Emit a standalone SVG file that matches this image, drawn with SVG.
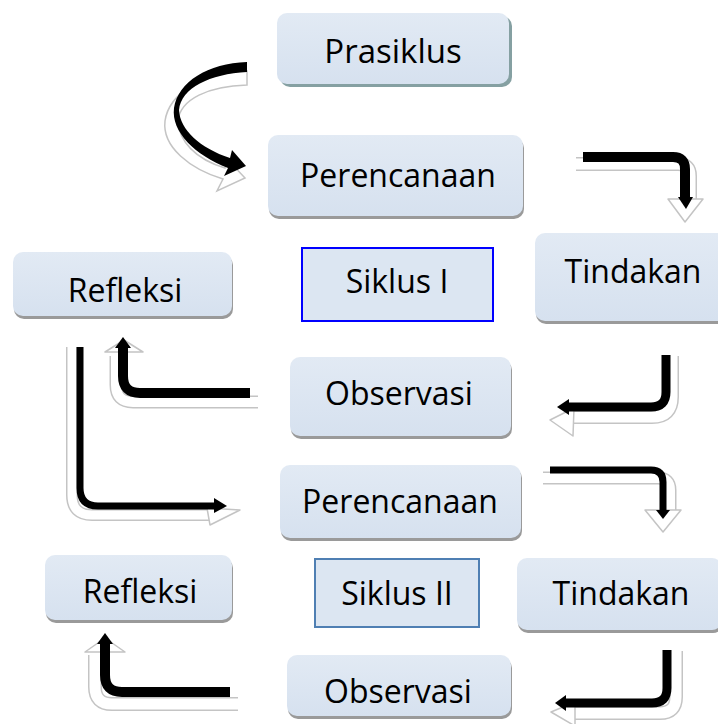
<svg xmlns="http://www.w3.org/2000/svg" width="718" height="724" viewBox="0 0 718 724">
<style>
.box{fill:url(#g);}
.sh{fill:#9a9a9a;}
.sq{fill:#dce6f2;stroke-width:2;}
.t{font-family:"Open Sans","Noto Sans",sans-serif;font-size:32px;fill:#000;text-anchor:middle;}
.bk{fill:none;stroke:#000;stroke-linecap:butt;stroke-linejoin:round;}
.bh{fill:#000;}
.wo{fill:none;stroke:#c4c4c4;stroke-linejoin:round;}
.wi{fill:none;stroke:#fff;stroke-linejoin:round;}
.wh{fill:#fff;stroke:#c4c4c4;stroke-width:1.5;stroke-linejoin:round;}
</style>
<defs>
<linearGradient id="g" x1="0" y1="0" x2="0" y2="1">
<stop offset="0" stop-color="#e2eaf4"/>
<stop offset="1" stop-color="#d6e1ef"/>
</linearGradient>
</defs>
<rect width="718" height="724" fill="#fff"/>

<g id="connectors">
<!-- Prasiklus -> Perencanaan (curved) -->
<g transform="translate(-5,11)">
<path d="M252,60 C208,62 174,82 170,110 C167,136 195,158 228,168 L222,180 L250,167 L232,148 L230,157 C200,148 184,130 183,110 C185,88 214,75 252,74 Z" fill="#fff" stroke="#c4c4c4" stroke-width="1.5"/>
</g>
<path d="M247,62 C208,63 178,82 174,108 C171,132 195,155 228,168 L224,176 L246,166 L232,150 L230,158 C200,148 180,130 179,110 C181,88 210,74 247,72 Z" class="bh"/>

<!-- Perencanaan1 -> Tindakan1 -->
<path d="M576,164 H678 Q690,164 690,176 V200" class="wo" stroke-width="14"/>
<path d="M576,164 H678 Q690,164 690,176 V200" class="wi" stroke-width="11"/>
<polygon points="668,199 703,199 685,222" class="wh"/>
<path d="M583,157 H673 Q685,157 685,169 V198" class="bk" stroke-width="10"/>
<polygon points="678,197 693,197 686,209" class="bh"/>

<!-- Tindakan1 -> Observasi1 -->
<path d="M672,356 V397 Q672,417 652,417 H572" class="wo" stroke-width="14"/>
<path d="M672,356 V397 Q672,417 652,417 H572" class="wi" stroke-width="11"/>
<polygon points="574,408 550,420 573,436" class="wh"/>
<path d="M666,355 V392 Q666,407 651,407 H568" class="bk" stroke-width="9"/>
<polygon points="569,399 569,415 557,407" class="bh"/>

<!-- Observasi1 -> Refleksi1 -->
<path d="M258,402 H133 Q116,402 116,385 V356" class="wo" stroke-width="13"/>
<path d="M258,402 H133 Q116,402 116,385 V356" class="wi" stroke-width="10"/>
<polygon points="105,352 143,352 124,340" class="wh"/>
<path d="M250,393 H140 Q123,393 123,376 V347" class="bk" stroke-width="10"/>
<polygon points="115,348 131,348 123,337" class="bh"/>

<!-- Refleksi1 -> Perencanaan2 -->
<path d="M72,347 V495 Q72,515 92,515 H212" class="wo" stroke-width="12"/>
<path d="M72,347 V495 Q72,515 92,515 H212" class="wi" stroke-width="9"/>
<polygon points="207,508 240,510 210,525" class="wh"/>
<path d="M80,347 V488 Q80,506 98,506 H215" class="bk" stroke-width="7"/>
<polygon points="214,498 214,513 227,506" class="bh"/>

<!-- Perencanaan2 -> Tindakan2 -->
<path d="M543,478 H658 Q670,478 670,490 V512" class="wo" stroke-width="13"/>
<path d="M543,478 H658 Q670,478 670,490 V512" class="wi" stroke-width="10"/>
<polygon points="645,510 681,510 663,532" class="wh"/>
<path d="M550,470 H651 Q663,470 663,482 V511" class="bk" stroke-width="7"/>
<polygon points="656,510 670,510 663,519" class="bh"/>

<!-- Tindakan2 -> Observasi2 -->
<path d="M676,651 V697 Q676,713 660,713 H570" class="wo" stroke-width="14"/>
<path d="M676,651 V697 Q676,713 660,713 H570" class="wi" stroke-width="11"/>
<polygon points="575,702 551,712 575,726" class="wh"/>
<path d="M667,650 V688 Q667,703 652,703 H565" class="bk" stroke-width="9"/>
<polygon points="566,695 566,711 555,703" class="bh"/>

<!-- Observasi2 -> Refleksi2 -->
<path d="M238,704 H112 Q95,704 95,687 V655" class="wo" stroke-width="14"/>
<path d="M238,704 H112 Q95,704 95,687 V655" class="wi" stroke-width="11"/>
<polygon points="85,652 125,652 105,638" class="wh"/>
<path d="M230,692 H122 Q105,692 105,675 V643" class="bk" stroke-width="10"/>
<polygon points="97,644 113,644 105,633" class="bh"/>
</g>

<g id="prasiklus">
<rect x="280" y="16" width="232" height="71" rx="10" fill="#85a0a2"/>
<rect x="277" y="13" width="232" height="71" rx="10" class="box"/>
<text x="393" y="63" class="t" style="font-size:33px">Prasiklus</text>
</g>
<g id="perencanaan1">
<rect x="269" y="138" width="255" height="81" rx="10" class="sh"/>
<rect x="268" y="135" width="255" height="81" rx="10" class="box"/>
<text x="398" y="187" class="t">Perencanaan</text>
</g>
<g id="tindakan1">
<rect x="536" y="236" width="200" height="88" rx="10" class="sh"/>
<rect x="535" y="233" width="200" height="88" rx="10" class="box"/>
<text x="633" y="283" class="t">Tindakan</text>
</g>
<g id="refleksi1">
<rect x="14" y="255" width="219" height="64" rx="10" class="sh"/>
<rect x="13" y="252" width="219" height="64" rx="10" class="box"/>
<text x="125" y="302" class="t">Refleksi</text>
</g>
<g id="siklus1">
<rect x="302" y="248" width="191" height="73" class="sq" stroke="#0000ff"/>
<text x="397" y="293" class="t">Siklus I</text>
</g>
<g id="observasi1">
<rect x="291" y="360" width="221" height="79" rx="10" class="sh"/>
<rect x="290" y="357" width="221" height="79" rx="10" class="box"/>
<text x="399" y="405" class="t">Observasi</text>
</g>
<g id="perencanaan2">
<rect x="281" y="468" width="241" height="73" rx="10" class="sh"/>
<rect x="280" y="465" width="241" height="73" rx="10" class="box"/>
<text x="400" y="513" class="t">Perencanaan</text>
</g>
<g id="siklus2">
<rect x="315" y="559" width="164" height="68" class="sq" stroke="#4f7fb3"/>
<text x="397" y="605" class="t">Siklus II</text>
</g>
<g id="tindakan2">
<rect x="518" y="561" width="205" height="72" rx="10" class="sh"/>
<rect x="517" y="558" width="205" height="72" rx="10" class="box"/>
<text x="621" y="605" class="t">Tindakan</text>
</g>
<g id="refleksi2">
<rect x="46" y="558" width="187" height="65" rx="10" class="sh"/>
<rect x="45" y="555" width="187" height="65" rx="10" class="box"/>
<text x="140" y="603" class="t">Refleksi</text>
</g>
<g id="observasi2">
<rect x="288" y="658" width="224" height="61" rx="10" class="sh"/>
<rect x="287" y="655" width="224" height="61" rx="10" class="box"/>
<text x="398" y="703" class="t">Observasi</text>
</g>
</svg>
